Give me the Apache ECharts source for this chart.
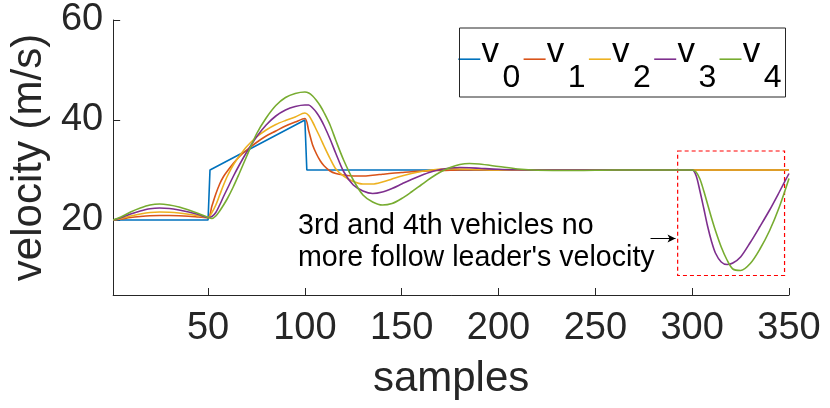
<!DOCTYPE html>
<html>
<head>
<meta charset="utf-8">
<script src="https://cdn.jsdelivr.net/npm/echarts@6/dist/echarts.min.js"></script>
<style>
html,body{margin:0;padding:0;background:#fff;}
#chart{width:830px;height:408px;}
</style>
</head>
<body>
<div id="chart"></div>
<script>
// ---- data ----
const seriesNames = ['v0', 'v1', 'v2', 'v3', 'v4'];
const legendSubs = ['0', '1', '2', '3', '4'];
const xTicks = [50, 100, 150, 200, 250, 300, 350];
const yTicks = [20, 40, 60];

const v0Samples = [1, 50, 51, 100, 101, 350];
const v0 = [20, 20, 30, 40, 30, 30];

const samples = [1,5,10,15,20,25,30,35,40,45,
  50,52,54,56,58,60,63,66,70,75,
  80,85,90,95,100,102,104,106,108,110,
  113,116,120,125,130,135,140,145,150,155,
  160,165,170,175,180,185,190,200,210,220,
  240,260,280,300,302,304,306,308,310,312,
  315,318,321,325,330,335,340,345,350];

const v1 = [20,20.2,20.5,20.7,20.85,20.9,20.9,20.85,20.75,20.6,
  20.45,22.8,25.2,27.2,28.7,29.8,31.3,32.6,34.0,35.5,
  36.8,37.8,38.8,39.6,40.3,37.8,35.0,33.2,31.8,30.8,
  29.8,29.3,29.0,28.8,28.8,28.95,29.15,29.35,29.5,29.65,
  29.75,29.85,29.9,29.95,30,30,30,30,30,30,
  30,30,30,30,30,30,30,30,30,30,
  30,30,30,30,30,30,30,30,30];

const v2 = [20,20.3,20.8,21.2,21.5,21.6,21.55,21.4,21.15,20.85,
  20.5,21.5,23.0,25.0,27.0,28.8,31.0,32.7,34.7,36.6,
  38.0,39.1,39.9,40.6,41.4,40.9,39.6,38.0,36.4,34.7,
  32.3,30.2,28.8,27.7,27.2,27.2,27.6,28.2,28.8,29.3,
  29.7,30.0,30.2,30.25,30.2,30.15,30.1,30.0,30.0,30.0,
  30,30,30,30,30,30,30,30,30,30,
  30,30,30,30,30,30,30,30,30];

const v3 = [20,20.45,21.2,21.8,22.25,22.4,22.3,22.0,21.6,21.1,
  20.5,20.7,21.5,23.0,24.7,26.3,28.7,30.9,33.6,36.6,
  39.0,40.8,42.0,42.7,43.0,43.0,42.4,41.5,40.3,38.8,
  36.2,33.3,29.7,27.0,25.8,25.3,25.6,26.3,27.2,28.1,
  28.9,29.6,30.1,30.4,30.5,30.45,30.35,30.15,30.05,30.0,
  30,30,30,30,28.9,25.8,22.3,18.7,15.7,13.4,
  11.6,11.1,11.4,12.6,15.5,18.7,22.0,25.6,29.3];

const v4 = [20,20.6,21.6,22.4,23.0,23.2,23.0,22.6,22.0,21.3,
  20.5,20.3,20.8,21.8,23.0,24.3,26.6,29.2,32.8,37.2,
  40.4,42.9,44.5,45.3,45.6,45.4,44.8,43.9,42.8,41.4,
  39.0,35.9,32.0,28.0,25.0,23.6,23.0,23.3,24.3,25.6,
  27.0,28.4,29.6,30.5,31.1,31.3,31.2,30.7,30.2,29.95,
  29.9,30,30,30,29.6,28.2,25.8,23.1,20.4,17.9,
  14.6,12.0,10.2,9.9,11.3,14.2,17.9,22.6,28.3];

const boxCorners = [[292.5, 33.8], [347.7, 8.9]];
const arrowFrom = [278.5, 16.3];
const arrowTo = [291.4, 16.3];
const noteText = '3rd and 4th vehicles no\nmore follow leader\'s velocity';

const colors = ['#0072BD', '#D95319', '#EDB120', '#7E2F8E', '#77AC30'];
const FONT = '"Liberation Sans", Arial, Helvetica, sans-serif';
const AX = '#262626';

function pairs(xs, ys) { return xs.map((x, i) => [x, ys[i]]); }

const curveData = [pairs(v0Samples, v0), pairs(samples, v1), pairs(samples, v2), pairs(samples, v3), pairs(samples, v4)];

const series = curveData.map((d, i) => ({
  name: seriesNames[i],
  type: 'line',
  data: d,
  symbol: 'none',
  smooth: i === 0 ? false : 0.3,
  lineStyle: { color: colors[i], width: 1.6 },
  itemStyle: { color: colors[i] },
  z: 2 + i,
  animation: false
}));

series[0].markArea = {
  silent: true,
  itemStyle: { color: 'rgba(0,0,0,0)', borderColor: '#FF0000', borderWidth: 1.2, borderType: [4, 3] },
  data: [[{ coord: boxCorners[0] }, { coord: boxCorners[1] }]]
};
series[0].markLine = {
  silent: true,
  animation: false,
  symbol: ['none', 'arrow'],
  symbolSize: [6, 8],
  label: { show: false },
  lineStyle: { color: '#000', width: 1, type: 'solid' },
  data: [[{ coord: arrowFrom }, { coord: arrowTo }]]
};

// legend layout (pixels)
const LEG_X0 = 458.3, LEG_STEP = 65.3, LINE_Y = 60.7;

const graphics = [{
  type: 'rect', left: 457, top: 25.5, silent: true, z: 100,
  shape: { width: 326, height: 69 },
  style: { fill: 'none', stroke: AX, lineWidth: 1 }
}, {
  type: 'text', left: 298, top: 210, silent: true,
  style: { text: noteText, font: '28.6px ' + FONT, fill: '#000', lineHeight: 32 }
}];
legendSubs.forEach((sub, i) => {
  const bx = LEG_X0 + LEG_STEP * i;
  graphics.push({
    type: 'text', silent: true, z: 100,
    style: { text: 'v', x: bx + 23.2, y: 51.9, font: '35px ' + FONT, fill: '#000', verticalAlign: 'middle', align: 'left' }
  });
  graphics.push({
    type: 'text', silent: true, z: 100,
    style: { text: sub, x: bx + 44.2, y: 77.9, font: '32px ' + FONT, fill: '#000', verticalAlign: 'middle', align: 'left' }
  });
});

const chart = echarts.init(document.getElementById('chart'), null, { renderer: 'canvas' });
chart.setOption({
  animation: false,
  backgroundColor: '#fff',
  textStyle: { fontFamily: FONT },
  grid: { left: 110, right: 41, top: 20, bottom: 113, containLabel: false },
  xAxis: {
    type: 'value', min: 1, max: 350,
    name: 'samples', nameLocation: 'middle', nameGap: 63,
    nameTextStyle: { fontSize: 42, color: AX, fontFamily: FONT },
    axisLine: { lineStyle: { color: AX, width: 1 } },
    axisTick: { inside: true, length: 7, lineStyle: { color: AX }, customValues: xTicks },
    axisLabel: { fontSize: 38, color: AX, margin: 15, fontFamily: FONT, customValues: xTicks },
    splitLine: { show: false }
  },
  yAxis: {
    type: 'value', min: 5, max: 60,
    name: 'velocity (m/s)', nameLocation: 'middle', nameGap: 49,
    nameTextStyle: { fontSize: 42, color: AX, fontFamily: FONT },
    axisLine: { show: true, lineStyle: { color: AX, width: 1 } },
    axisTick: { show: true, inside: true, length: 7, lineStyle: { color: AX }, customValues: yTicks },
    axisLabel: { fontSize: 38, color: AX, margin: 10, fontFamily: FONT, customValues: yTicks },
    splitLine: { show: false }
  },
  legend: {
    left: LEG_X0, top: LINE_Y - 7.5,
    orient: 'horizontal',
    icon: 'rect',
    itemWidth: 22, itemHeight: 1.6, itemGap: 2.3,
    padding: 0,
    selectedMode: false,
    data: seriesNames,
    formatter: function () { return '{w|\u00a0}'; },
    textStyle: {
      fontFamily: FONT, color: '#000',
      rich: { w: { width: 36, fontSize: 12, lineHeight: 12 } }
    }
  },
  graphic: graphics,
  series: series
});
</script>
</body>
</html>
